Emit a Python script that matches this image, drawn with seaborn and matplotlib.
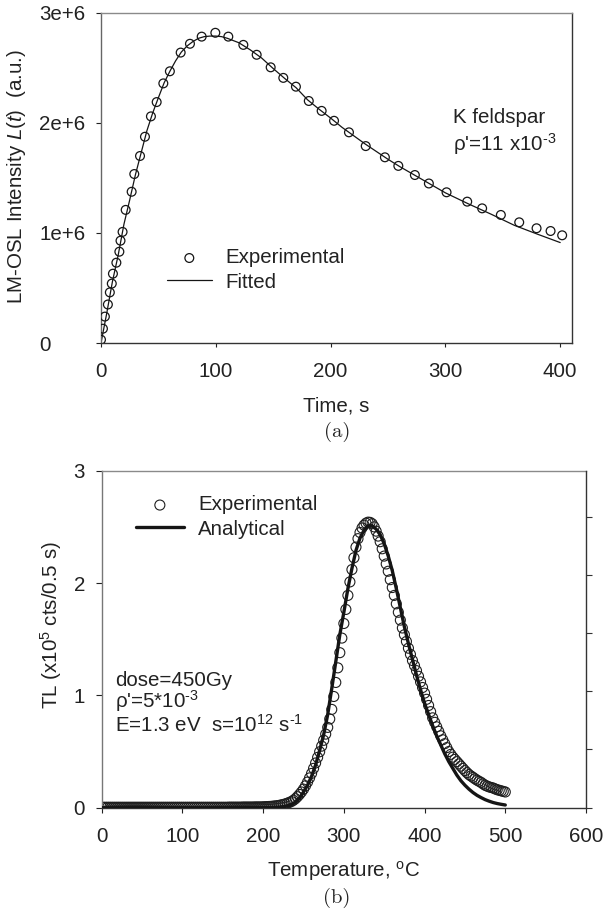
import numpy as np
import matplotlib
matplotlib.use("Agg")
import matplotlib.pyplot as plt
import seaborn as sns

# ---------------- data: panel (a) LM-OSL ----------------
osl_time = [0, 1.7, 3.4, 6, 7.7, 9.4, 10.4, 13.4, 16, 17, 18.8, 21.5, 26.7, 29, 34,
            38.3, 43.5, 48.5, 54.3, 60, 69.4, 77.5, 87.7, 99.6, 110.9, 124, 135.6,
            147.8, 158.8, 169.8, 181, 192.2, 203, 216, 230.6, 247.3, 259, 273.4,
            285.6, 301, 319, 332, 348.3, 364.3, 379.4, 391.6, 401.7]
osl_exp = [0.03, 0.13, 0.24, 0.35, 0.46, 0.54, 0.63, 0.73, 0.83, 0.93, 1.01, 1.21,
           1.375, 1.536, 1.70, 1.875, 2.06, 2.19, 2.36, 2.47, 2.64, 2.72, 2.785, 2.82,
           2.785, 2.71, 2.62, 2.506, 2.41, 2.33, 2.20, 2.11, 2.02, 1.915, 1.79, 1.688,
           1.61, 1.527, 1.45, 1.37, 1.285, 1.224, 1.164, 1.097, 1.043, 1.018, 0.979]
osl_fit_time = [0, 5, 10, 15, 20, 25, 30, 35, 40, 45, 50, 55, 60, 65, 70, 75, 80, 85,
                90, 95, 100, 105, 110, 120, 130, 140, 150, 160, 170, 180, 190, 200,
                210, 220, 230, 240, 250, 260, 270, 280, 290, 300, 320, 340, 360, 380, 400]
osl_fit = [0.0, 0.27, 0.56, 0.80, 1.08, 1.30, 1.53, 1.73, 1.93, 2.09, 2.23, 2.365,
           2.47, 2.565, 2.645, 2.70, 2.74, 2.77, 2.785, 2.79, 2.79, 2.785, 2.77, 2.73,
           2.665, 2.59, 2.495, 2.405, 2.32, 2.21, 2.125, 2.045, 1.96, 1.885, 1.81,
           1.74, 1.67, 1.605, 1.545, 1.485, 1.425, 1.365, 1.265, 1.17, 1.07, 0.99, 0.913]
osl_scale = 1e6
osl_xticks = [0, 100, 200, 300, 400]
osl_yticks = [0, 1e6, 2e6, 3e6]
osl_ytick_labels = ["0", "1e+6", "2e+6", "3e+6"]

# ---------------- data: panel (b) TL ----------------
tl_temperature = np.arange(0.0, 502.5, 2.5)
tl_exp = [
    0.004, 0.004, 0.004, 0.004, 0.004, 0.004, 0.004, 0.004, 0.004, 0.004,
    0.004, 0.004, 0.004, 0.004, 0.004, 0.004, 0.004, 0.004, 0.004, 0.004,
    0.004, 0.004, 0.004, 0.004, 0.004, 0.004, 0.004, 0.004, 0.004, 0.004,
    0.004, 0.004, 0.004, 0.004, 0.004, 0.004, 0.004, 0.004, 0.004, 0.004,
    0.004, 0.004, 0.004, 0.004, 0.004, 0.004, 0.004, 0.004, 0.004, 0.004,
    0.004, 0.004, 0.004, 0.004, 0.004, 0.004, 0.004, 0.004, 0.004, 0.004,
    0.004,
    0.004, 0.004, 0.005, 0.005, 0.005, 0.005, 0.005, 0.005, 0.005, 0.006,
    0.006, 0.006, 0.006, 0.006, 0.006, 0.007, 0.007, 0.007, 0.007,
    0.008, 0.009, 0.010, 0.011, 0.012, 0.014, 0.016, 0.018, 0.021, 0.025,
    0.029, 0.034, 0.040, 0.047, 0.055, 0.066, 0.080, 0.098, 0.118, 0.140,
    0.165, 0.195, 0.228, 0.265, 0.305, 0.350, 0.398, 0.448, 0.498, 0.548,
    0.600, 0.655, 0.715, 0.790, 0.875, 0.990, 1.115, 1.245, 1.380, 1.510,
    1.640, 1.765, 1.890, 2.010, 2.120, 2.225, 2.320, 2.395, 2.450, 2.490,
    2.515, 2.533, 2.542, 2.540, 2.528, 2.500, 2.462, 2.418, 2.368, 2.305,
    2.240, 2.170, 2.105, 2.030, 1.960, 1.890, 1.815, 1.740, 1.670, 1.600,
    1.540, 1.480, 1.420, 1.365, 1.310, 1.265, 1.220, 1.170, 1.120, 1.070,
    1.020, 0.965, 0.910, 0.855, 0.800, 0.760, 0.720, 0.680, 0.640, 0.605,
    0.570, 0.535, 0.500, 0.475, 0.450, 0.430, 0.410, 0.390, 0.370, 0.350,
    0.330, 0.312, 0.295, 0.282, 0.270, 0.257, 0.245, 0.235, 0.225, 0.212,
    0.200, 0.192, 0.185, 0.180, 0.175, 0.167, 0.160, 0.155, 0.150, 0.145,
    0.140]
tl_fit_temp = [0, 200, 210, 220, 225, 230, 235, 240, 245, 250, 255, 260, 265, 270,
               275, 280, 285, 290, 295, 300, 305, 310, 315, 320, 325, 330, 335, 340,
               345, 350, 355, 360, 365, 370, 375, 380, 385, 390, 395, 400, 405, 410,
               415, 420, 425, 430, 435, 440, 445, 450, 455, 460, 465, 470, 475, 480,
               485, 490, 495, 500]
tl_fit = [0.0, 0.0, 0.002, 0.006, 0.010, 0.016, 0.028, 0.050, 0.085, 0.14, 0.20,
          0.28, 0.38, 0.51, 0.65, 0.83, 1.06, 1.30, 1.54, 1.74, 1.95, 2.13, 2.29,
          2.40, 2.47, 2.51, 2.51, 2.48, 2.43, 2.35, 2.24, 2.11, 1.95, 1.78, 1.61,
          1.46, 1.32, 1.18, 1.05, 0.93, 0.83, 0.73, 0.64, 0.56, 0.48, 0.41, 0.35,
          0.29, 0.24, 0.20, 0.165, 0.135, 0.11, 0.09, 0.072, 0.058, 0.046, 0.037,
          0.030, 0.024]
tl_xticks = [0, 100, 200, 300, 400, 500, 600]
tl_yticks = [0, 1, 2, 3]
tl_right_ticks = [0, 1, 2, 3, 4, 5]

# ---------------- style ----------------
sns.set_style("ticks")
plt.rcParams["font.family"] = ["Liberation Sans", "DejaVu Sans"]
plt.rcParams["mathtext.fontset"] = "custom"
plt.rcParams["mathtext.rm"] = "Liberation Sans"
plt.rcParams["mathtext.it"] = "Liberation Sans:italic"
plt.rcParams["mathtext.bf"] = "Liberation Sans:bold"
plt.rcParams["axes.unicode_minus"] = False

FS = 14.8
TXT = "#222222"
INK = "#151515"

fig = plt.figure(figsize=(6.04, 9.18), dpi=100)
fig.patch.set_facecolor("white")

# ================= panel (a) =================
ax1 = fig.add_axes([0.1672, 0.62636, 0.7793, 0.3595])
sns.lineplot(x=osl_fit_time, y=[v * osl_scale for v in osl_fit], ax=ax1,
             color=INK, linewidth=0.9, label="Fitted", estimator=None, sort=False,
             zorder=2)
sns.scatterplot(x=osl_time, y=[v * osl_scale for v in osl_exp], ax=ax1,
                marker="o", s=40, facecolor="none", edgecolor=INK,
                linewidth=0.9, label="Experimental", zorder=3)
ax1.collections[-1].set_facecolor("none")
ax1.set_xlim(0, 410)
ax1.set_ylim(0, 3e6)
ax1.set_xticks(osl_xticks)
ax1.set_xticklabels([str(t) for t in osl_xticks])
ax1.set_yticks(osl_yticks)
ax1.set_yticklabels(osl_ytick_labels)
ax1.tick_params(axis="x", direction="out", length=3.0, width=0.8, pad=11,
                labelsize=FS, colors=TXT)
ax1.tick_params(axis="y", direction="out", length=3.6, width=0.8, pad=41,
                labelsize=FS, colors=TXT)
for lab in ax1.get_yticklabels():
    lab.set_horizontalalignment("left")
ax1.spines["left"].set_color("#666666")
ax1.spines["top"].set_color("#8a8a8a")
ax1.spines["right"].set_color("#333333")
ax1.spines["bottom"].set_color("#333333")
for s in ax1.spines.values():
    s.set_linewidth(1.0)
    s.set_visible(True)

ax1.set_xlabel("Time, s", fontsize=FS, color=TXT)
ax1.xaxis.label.set_va("baseline")
ax1.xaxis.set_label_coords(0.5, -0.209)
ax1.set_ylabel(r"LM-OSL Intensity $\mathit{L(t)}$  (a.u.)", fontsize=FS, color=TXT)
ax1.yaxis.label.set_va("center")
ax1.yaxis.set_label_coords(-0.1785, 0.503)

ax1.text(0.747, 0.6658, "K feldspar", transform=ax1.transAxes, fontsize=FS,
         color=TXT, ha="left", va="baseline")
ax1.text(0.747, 0.5827, r"ρ'=11 x10$^{\text{-3}}$", transform=ax1.transAxes,
         fontsize=FS, color=TXT, ha="left", va="baseline")

h, l = ax1.get_legend_handles_labels()
order = [l.index("Experimental"), l.index("Fitted")]
leg1 = ax1.legend([h[i] for i in order], [l[i] for i in order],
                  loc="center left", bbox_to_anchor=(0.276, 0.7059),
                  bbox_transform=fig.transFigure, frameon=False, fontsize=FS,
                  handlelength=2.2, handletextpad=0.66, labelspacing=0.25,
                  borderpad=0, borderaxespad=0, scatterpoints=1)
for t in leg1.get_texts():
    t.set_color(TXT)

fig.text(337 / 604, 1 - 437 / 918, "(a)", ha="center", va="baseline",
         fontsize=FS, family="cmr10", color=TXT)

# ================= panel (b) =================
ax2 = fig.add_axes([0.1684, 0.12015, 0.8018, 0.3671])
sns.scatterplot(x=tl_temperature, y=tl_exp, ax=ax2, marker="o", s=52,
                facecolor="none", edgecolor="#1e1e1e", linewidth=0.8,
                label="Experimental", zorder=2)
ax2.collections[-1].set_facecolor("none")
sns.lineplot(x=tl_fit_temp, y=tl_fit, ax=ax2, color=INK, linewidth=2.4,
             label="Analytical", estimator=None, sort=False, zorder=3)
ax2.set_xlim(0, 600)
ax2.set_ylim(0, 3)
ax2.set_xticks(tl_xticks)
ax2.set_xticklabels([str(t) for t in tl_xticks])
ax2.set_yticks(tl_yticks)
ax2.set_yticklabels([str(t) for t in tl_yticks])
ax2.tick_params(axis="x", direction="out", length=3.6, width=0.8, pad=10.5,
                labelsize=FS, colors=TXT)
ax2.tick_params(axis="y", direction="out", length=4.3, width=0.8, pad=7.7,
                labelsize=FS, colors=TXT)
ax2.spines["left"].set_color("#777777")
ax2.spines["top"].set_color("#8a8a8a")
ax2.spines["bottom"].set_color("#333333")
ax2.spines["right"].set_visible(False)
for k in ["left", "top", "bottom"]:
    ax2.spines[k].set_linewidth(1.0)
    ax2.spines[k].set_visible(True)

ax2r = ax2.twinx()
ax2r.set_ylim(0, 5.79)
ax2r.set_yticks(tl_right_ticks)
ax2r.set_yticklabels([])
ax2r.tick_params(axis="y", direction="out", length=4.3, width=0.8, colors="#333333")
for k in ["left", "top", "bottom"]:
    ax2r.spines[k].set_visible(False)
ax2r.spines["right"].set_color("#333333")
ax2r.spines["right"].set_linewidth(1.0)
ax2r.spines["right"].set_visible(True)

ax2.set_xlabel(r"Temperature, $^{\mathrm{o}}$C", fontsize=FS, color=TXT)
ax2.xaxis.label.set_va("baseline")
ax2.xaxis.set_label_coords(0.5, -0.2056)
ax2.set_ylabel(r"TL (x10$^{5}$ cts/0.5 s)", fontsize=FS, color=TXT)
ax2.yaxis.label.set_va("center")
ax2.yaxis.set_label_coords(-0.105, 0.5417)

ax2.text(0.0275, 0.3611, "dose=450Gy", transform=ax2.transAxes, fontsize=FS,
         color=TXT, ha="left", va="baseline")
ax2.text(0.0275, 0.2950, r"ρ'=5*10$^{\text{-3}}$", transform=ax2.transAxes,
         fontsize=FS, color=TXT, ha="left", va="baseline")
ax2.text(0.0275, 0.2255, r"E=1.3 eV  s=10$^{12}$ s$^{\text{-1}}$",
         transform=ax2.transAxes, fontsize=FS, color=TXT, ha="left", va="baseline")

h, l = ax2.get_legend_handles_labels()
order = [l.index("Experimental"), l.index("Analytical")]
leg2 = ax2.legend([h[i] for i in order], [l[i] for i in order],
                  loc="center left", bbox_to_anchor=(0.2245, 0.4368),
                  bbox_transform=fig.transFigure, frameon=False, fontsize=FS,
                  handlelength=2.36, handletextpad=0.67, labelspacing=0.25,
                  borderpad=0, borderaxespad=0, scatterpoints=1)
for t in leg2.get_texts():
    t.set_color(TXT)

fig.text(337 / 604, 1 - 903 / 918, "(b)", ha="center", va="baseline",
         fontsize=FS, family="cmr10", color=TXT)

fig.savefig("out.png", dpi=100)
